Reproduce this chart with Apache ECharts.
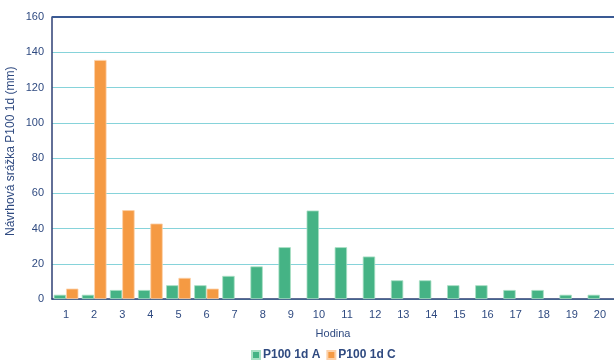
<!DOCTYPE html>
<html>
<head>
<meta charset="utf-8">
<script src="https://cdn.jsdelivr.net/npm/echarts@6/dist/echarts.min.js"></script>
<style>
  html, body { margin: 0; padding: 0; background: #ffffff; }
  #chart { width: 614px; height: 362px; }
</style>
</head>
<body>
<div id="chart"></div>
<script>
// Hours of the design storm
const hours = ['1','2','3','4','5','6','7','8','9','10','11','12','13','14','15','16','17','18','19','20'];
// Design rainfall P100 1d, scenario A (mm)
const seriesA = [2.4, 2.4, 5.1, 5.1, 7.8, 7.8, 13.1, 18.5, 29.4, 50.2, 29.4, 24.1, 10.6, 10.6, 7.8, 7.8, 5.1, 5.1, 2.4, 2.4];
// Design rainfall P100 1d, scenario C (mm)
const seriesC = [5.9, 135.6, 50.4, 42.8, 12.0, 5.9];
const seriesNames = ['P100 1d A', 'P100 1d C'];
const yTicks = { min: 0, max: 160, interval: 20 };

const textColor = '#2F4A80';
const axisColor = '#2E3F74';
const font = '"Liberation Sans", Arial, sans-serif';

const chart = echarts.init(document.getElementById('chart'), null, { renderer: 'canvas' });
chart.setOption({
  animation: false,
  backgroundColor: '#ffffff',
  grid: { left: 52, right: 0, top: 17, bottom: 63, show: false },
  legend: {
    data: seriesNames,
    top: 344,
    left: 246,
    itemWidth: 8,
    itemHeight: 8,
    itemGap: 6,
    icon: 'rect',
    textStyle: { color: textColor, fontFamily: font, fontSize: 12, fontWeight: 'bold', padding: [0, 0, 0, -2] }
  },
  xAxis: {
    type: 'category',
    data: hours,
    name: 'Hodina',
    nameLocation: 'middle',
    nameGap: 29,
    nameTextStyle: { color: textColor, fontFamily: font, fontSize: 11 },
    axisLine: { lineStyle: { color: axisColor, width: 1.5 } },
    axisTick: { show: false },
    axisLabel: { color: textColor, fontFamily: font, fontSize: 11, margin: 10 }
  },
  yAxis: {
    type: 'value',
    min: yTicks.min,
    max: yTicks.max,
    interval: yTicks.interval,
    axisLine: { show: true, lineStyle: { color: axisColor, width: 1.5 } },
    axisTick: { show: false },
    axisLabel: { color: textColor, fontFamily: font, fontSize: 11, margin: 8 },
    splitLine: { lineStyle: { color: '#86D3DA', width: 1 } }
  },
  graphic: [
    {
      type: 'text',
      x: 5,
      y: 236,
      rotation: Math.PI / 2,
      style: {
        text: 'Návrhová srážka P100 1d (mm)',
        fill: textColor,
        font: '12px ' + font,
        textAlign: 'left',
        textVerticalAlign: 'top'
      }
    },
    {
      type: 'line',
      shape: { x1: 52, y1: 17, x2: 614, y2: 17 },
      style: { stroke: '#3A5A94', lineWidth: 2 },
      z: 10
    }
  ],
  series: [
    {
      name: seriesNames[0],
      type: 'bar',
      data: seriesA,
      barGap: '0%',
      barCategoryGap: '12%',
      itemStyle: { color: '#45B385', borderColor: '#A8E0C4', borderWidth: 0.8 }
    },
    {
      name: seriesNames[1],
      type: 'bar',
      data: seriesC,
      itemStyle: { color: '#F59A43', borderColor: '#FCD0A8', borderWidth: 0.8 }
    }
  ]
});
</script>
</body>
</html>
